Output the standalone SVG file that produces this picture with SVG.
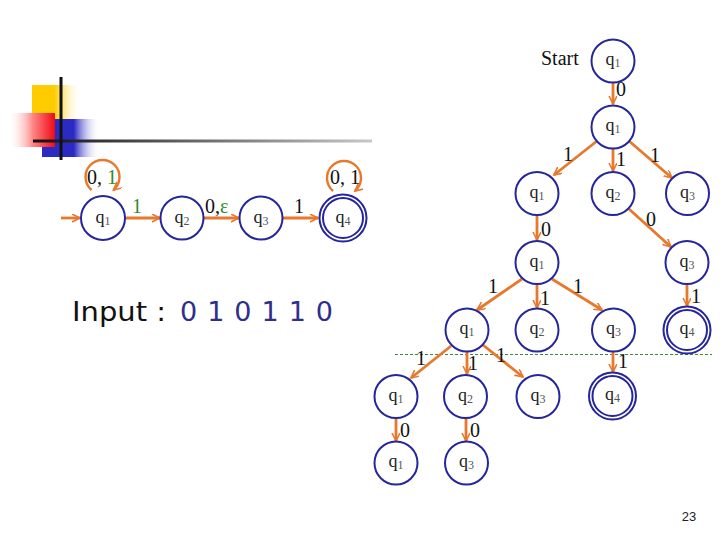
<svg xmlns="http://www.w3.org/2000/svg" width="720" height="540" viewBox="0 0 720 540">
<defs>
<style>
.st{fill:#fff;stroke:#25259c;stroke-width:2}
.dbl{fill:none;stroke:#25259c;stroke-width:2}
.e{stroke:#e8782c;stroke-width:2.8;fill:none;marker-end:url(#ah)}
.lp{stroke:#e8782c;stroke-width:2.4;fill:none;marker-end:url(#ah)}
.q{font-family:"Liberation Serif",serif;font-size:18px;fill:#222;text-anchor:middle}
.sub{font-size:12px;fill:#555}
.lb{font-family:"Liberation Serif",serif;font-size:20px;fill:#111}
.gr{fill:#2e8b2e}
</style>
<marker id="ah" markerWidth="10" markerHeight="10" refX="8" refY="4" orient="auto" markerUnits="userSpaceOnUse">
<path d="M0,0 L8,4 L0,8" fill="none" stroke="#e8782c" stroke-width="1.6"/>
</marker>
<linearGradient id="gy" x1="0" y1="0" x2="1" y2="0">
<stop offset="0" stop-color="#ffcc00"/><stop offset="0.45" stop-color="#ffcc00"/><stop offset="1" stop-color="#ffffff" stop-opacity="0"/>
</linearGradient>
<linearGradient id="gr" x1="0" y1="0" x2="1" y2="0">
<stop offset="0" stop-color="#ffffff" stop-opacity="0.2"/><stop offset="0.5" stop-color="#ff8888"/><stop offset="1" stop-color="#ee0a14"/>
</linearGradient>
<linearGradient id="gb" x1="0" y1="0" x2="1" y2="0">
<stop offset="0" stop-color="#2b2bc4"/><stop offset="0.55" stop-color="#2b2bc4"/><stop offset="1" stop-color="#ffffff" stop-opacity="0"/>
</linearGradient>
<linearGradient id="gl" x1="0" y1="0" x2="1" y2="0">
<stop offset="0" stop-color="#111"/><stop offset="0.1" stop-color="#222"/><stop offset="1" stop-color="#c8c8c8"/>
</linearGradient>
</defs>
<rect width="720" height="540" fill="#fff"/>

<g id="decoration">
<rect x="32" y="85" width="50" height="35" fill="url(#gy)"/>
<rect x="42" y="119" width="58" height="38" fill="url(#gb)"/>
<rect x="10" y="113" width="45" height="34" fill="url(#gr)"/>
<rect x="33" y="139.5" width="339" height="3" fill="url(#gl)"/>
<rect x="59.5" y="77" width="3" height="83" fill="#111"/>
</g>

<g id="nfa-connectors">
<line class="e" x1="61" y1="218" x2="80" y2="218"/>
<line class="e" x1="125" y1="218" x2="160" y2="218"/>
<line class="e" x1="204" y1="218" x2="239" y2="218"/>
<line class="e" x1="283" y1="218" x2="318" y2="218"/>
<path class="lp" d="M91.6 190 A17 17 0 1 1 113.4 190"/>
<path class="lp" d="M333.1 191 A17 17 0 1 1 354.9 191"/>
</g>
<g id="nfa-q1"><circle class="st" cx="103" cy="218" r="22"/><text class="q" x="103" y="223">q<tspan class="sub" dy="2">1</tspan></text></g>
<g id="nfa-q2"><circle class="st" cx="182" cy="218" r="21.5"/><text class="q" x="182" y="223">q<tspan class="sub" dy="2">2</tspan></text></g>
<g id="nfa-q3"><circle class="st" cx="261" cy="218" r="21.5"/><text class="q" x="261" y="223">q<tspan class="sub" dy="2">3</tspan></text></g>
<g id="nfa-q4"><circle class="st" cx="343" cy="218" r="23.5"/><circle class="dbl" cx="343" cy="218" r="20"/><text class="q" x="343" y="223">q<tspan class="sub" dy="2">4</tspan></text></g>
<g id="nfa-labels">
<text class="lb" x="87" y="184">0, <tspan class="gr">1</tspan></text>
<text class="lb gr" x="132" y="213">1</text>
<text class="lb" x="205" y="213">0,<tspan class="gr">ε</tspan></text>
<text class="lb" x="294" y="213">1</text>
<text class="lb" x="330" y="184">0, 1</text>
</g>

<g id="input">
<text x="72" y="321" font-family="DejaVu Sans,sans-serif" font-size="27" fill="#111" textLength="94" lengthAdjust="spacingAndGlyphs">Input :</text>
<text x="180" y="321" font-family="DejaVu Sans,sans-serif" font-size="27" fill="#2e2e8e" textLength="153" lengthAdjust="spacing">0 1 0 1 1 0</text>
</g>

<line x1="395" y1="354.5" x2="712" y2="354.5" stroke="#3a8a3a" stroke-width="1" stroke-dasharray="3,2"/>

<g id="tree-connectors">
<line class="e" x1="613" y1="83" x2="613" y2="104"/>
<line class="e" x1="597" y1="141" x2="554" y2="175"/>
<line class="e" x1="613" y1="149" x2="613" y2="171"/>
<line class="e" x1="629" y1="141" x2="672" y2="178"/>
<line class="e" x1="537" y1="216" x2="537" y2="240"/>
<line class="e" x1="629" y1="209" x2="671" y2="247"/>
<line class="e" x1="522" y1="279" x2="477" y2="310"/>
<line class="e" x1="537" y1="285" x2="537" y2="308"/>
<line class="e" x1="552" y1="279" x2="602" y2="310"/>
<line class="e" x1="687" y1="285" x2="687" y2="306"/>
<line class="e" x1="451" y1="346" x2="411" y2="378"/>
<line class="e" x1="467" y1="352" x2="467" y2="374"/>
<line class="e" x1="483" y1="345" x2="523" y2="377"/>
<line class="e" x1="613" y1="352" x2="613" y2="372"/>
<line class="e" x1="396" y1="418" x2="396" y2="441"/>
<line class="e" x1="466" y1="418" x2="466" y2="441"/>
</g>

<g id="tree-labels">
<text class="lb" x="541" y="65" font-size="22">Start</text>
<text class="lb" x="616" y="96">0</text>
<text class="lb" x="563" y="161">1</text>
<text class="lb" x="616" y="166">1</text>
<text class="lb" x="650" y="162">1</text>
<text class="lb" x="541" y="236">0</text>
<text class="lb" x="646" y="226">0</text>
<text class="lb" x="488" y="293">1</text>
<text class="lb" x="540" y="305">1</text>
<text class="lb" x="573" y="293">1</text>
<text class="lb" x="691" y="303">1</text>
<text class="lb" x="416" y="365">1</text>
<text class="lb" x="468" y="370">1</text>
<text class="lb" x="496" y="362">1</text>
<text class="lb" x="618" y="368">1</text>
<text class="lb" x="400" y="437">0</text>
<text class="lb" x="470" y="437">0</text>
</g>

<g id="t0-q1"><circle class="st" cx="613" cy="61" r="21.5"/><text class="q" x="613" y="65">q<tspan class="sub" dy="2">1</tspan></text></g>
<g id="t1-q1"><circle class="st" cx="613" cy="127" r="21.5"/><text class="q" x="613" y="131">q<tspan class="sub" dy="2">1</tspan></text></g>
<g id="t2-q1"><circle class="st" cx="537" cy="193.5" r="21.5"/><text class="q" x="537" y="197.5">q<tspan class="sub" dy="2">1</tspan></text></g>
<g id="t2-q2"><circle class="st" cx="613" cy="193.5" r="21.5"/><text class="q" x="613" y="197.5">q<tspan class="sub" dy="2">2</tspan></text></g>
<g id="t2-q3"><circle class="st" cx="687.5" cy="193.5" r="21.5"/><text class="q" x="687.5" y="197.5">q<tspan class="sub" dy="2">3</tspan></text></g>
<g id="t3-q1"><circle class="st" cx="537" cy="262.5" r="21.5"/><text class="q" x="537" y="266.5">q<tspan class="sub" dy="2">1</tspan></text></g>
<g id="t3-q3"><circle class="st" cx="687" cy="262.5" r="21.5"/><text class="q" x="687" y="266.5">q<tspan class="sub" dy="2">3</tspan></text></g>
<g id="t4-q1"><circle class="st" cx="467" cy="330" r="21.5"/><text class="q" x="467" y="334">q<tspan class="sub" dy="2">1</tspan></text></g>
<g id="t4-q2"><circle class="st" cx="537" cy="330" r="21.5"/><text class="q" x="537" y="334">q<tspan class="sub" dy="2">2</tspan></text></g>
<g id="t4-q3"><circle class="st" cx="613.5" cy="330" r="21.5"/><text class="q" x="613.5" y="334">q<tspan class="sub" dy="2">3</tspan></text></g>
<g id="t4-q4"><circle class="st" cx="687" cy="330" r="23.5"/><circle class="dbl" cx="687" cy="330" r="20"/><text class="q" x="687" y="334">q<tspan class="sub" dy="2">4</tspan></text></g>
<g id="t5-q1"><circle class="st" cx="396" cy="396.5" r="21.5"/><text class="q" x="396" y="400.5">q<tspan class="sub" dy="2">1</tspan></text></g>
<g id="t5-q2"><circle class="st" cx="465.5" cy="396.5" r="21.5"/><text class="q" x="465.5" y="400.5">q<tspan class="sub" dy="2">2</tspan></text></g>
<g id="t5-q3"><circle class="st" cx="538" cy="396.5" r="21.5"/><text class="q" x="538" y="400.5">q<tspan class="sub" dy="2">3</tspan></text></g>
<g id="t5-q4"><circle class="st" cx="612.5" cy="396" r="23.5"/><circle class="dbl" cx="612.5" cy="396" r="20"/><text class="q" x="612.5" y="400">q<tspan class="sub" dy="2">4</tspan></text></g>
<g id="t6-q1"><circle class="st" cx="396" cy="463" r="21.5"/><text class="q" x="396" y="467">q<tspan class="sub" dy="2">1</tspan></text></g>
<g id="t6-q3"><circle class="st" cx="466.5" cy="463" r="21.5"/><text class="q" x="466.5" y="467">q<tspan class="sub" dy="2">3</tspan></text></g>

<text x="689" y="521" font-family="Liberation Sans,sans-serif" font-size="13" fill="#222" text-anchor="middle">23</text>
</svg>
